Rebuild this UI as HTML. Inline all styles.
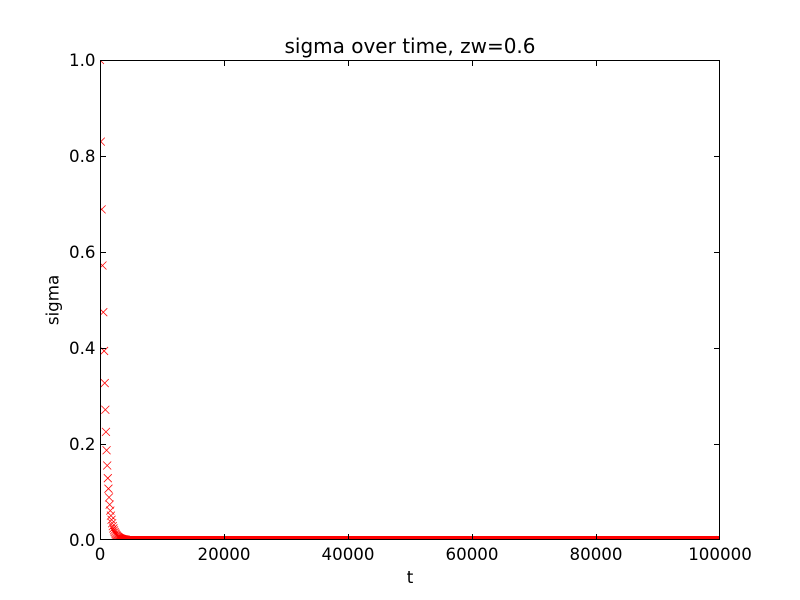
<!DOCTYPE html>
<html>
<head>
<meta charset="utf-8">
<style>
  html, body { margin: 0; padding: 0; background: #ffffff; }
  svg { display: block; }
  text { font-family: "DejaVu Sans", "Liberation Sans", sans-serif; fill: #000; }
</style>
</head>
<body>
<svg width="800" height="600" viewBox="0 0 800 600" xmlns="http://www.w3.org/2000/svg">
  <rect x="0" y="0" width="800" height="600" fill="#ffffff"/>
  <defs>
    <clipPath id="ax"><rect x="100" y="60" width="620" height="480"/></clipPath>
  </defs>
  <g clip-path="url(#ax)">
    <rect x="124" y="536" width="596" height="4" fill="#ff0000"/>
    <path fill="none" stroke="#ff0000" stroke-width="0.75" d="M96 56l8 8m-8 0l8-8 M96.82 137.6l8 8m-8 0l8-8 M97.64 205.33l8 8m-8 0l8-8 M98.46 261.54l8 8m-8 0l8-8 M99.28 308.19l8 8m-8 0l8-8 M100.1 346.93l8 8m-8 0l8-8 M100.72 379.07l8 8m-8 0l8-8 M101.34 405.75l8 8m-8 0l8-8 M101.96 427.89l8 8m-8 0l8-8 M102.58 446.27l8 8m-8 0l8-8 M103.2 461.52l8 8m-8 0l8-8 M103.82 474.18l8 8m-8 0l8-8 M104.44 484.69l8 8m-8 0l8-8 M105.06 493.41l8 8m-8 0l8-8 M105.68 500.65l8 8m-8 0l8-8 M106.3 506.66l8 8m-8 0l8-8 M106.92 511.65l8 8m-8 0l8-8 M107.54 515.79l8 8m-8 0l8-8 M108.16 519.23l8 8m-8 0l8-8 M108.78 522.08l8 8m-8 0l8-8 M109.4 524.44l8 8m-8 0l8-8 M110.02 526.41l8 8m-8 0l8-8 M110.64 528.04l8 8m-8 0l8-8 M111.26 529.39l8 8m-8 0l8-8 M111.88 530.52l8 8m-8 0l8-8 M112.5 531.45l8 8m-8 0l8-8 M113.12 532.22l8 8m-8 0l8-8 M113.74 532.87l8 8m-8 0l8-8 M114.36 533.4l8 8m-8 0l8-8 M114.98 533.84l8 8m-8 0l8-8 M115.6 534.21l8 8m-8 0l8-8 M116.22 534.51l8 8m-8 0l8-8 M116.84 534.77l8 8m-8 0l8-8 M117.46 534.97l8 8m-8 0l8-8 M118.08 535.15l8 8m-8 0l8-8 M118.7 535.3l8 8m-8 0l8-8 M119.32 535.42l8 8m-8 0l8-8 M119.94 535.52l8 8m-8 0l8-8 M120.56 535.6l8 8m-8 0l8-8 M121.18 535.67l8 8m-8 0l8-8 M121.8 535.72l8 8m-8 0l8-8 M716 536l8 8m-8 0l8-8"/>
  </g>
  <rect x="100.5" y="60.5" width="619" height="479" fill="none" stroke="#000" stroke-width="1"/>
  <path stroke="#000" stroke-width="1" fill="none" d="M224.5 539.5V534M348.5 539.5V534M472.5 539.5V534M596.5 539.5V534M224.5 60.5V66M348.5 60.5V66M472.5 60.5V66M596.5 60.5V66M100.5 444.5H106M100.5 348.5H106M100.5 252.5H106M100.5 156.5H106M719.5 444.5H714M719.5 348.5H714M719.5 252.5H714M719.5 156.5H714"/>
  <g font-size="16.67" text-anchor="middle">
    <text x="100" y="560">0</text>
    <text x="224" y="560">20000</text>
    <text x="348" y="560">40000</text>
    <text x="472" y="560">60000</text>
    <text x="596" y="560">80000</text>
    <text x="720" y="560">100000</text>
    <text x="410" y="583">t</text>
  </g>
  <g font-size="16.67" text-anchor="end">
    <text x="95.5" y="546">0.0</text>
    <text x="95.5" y="450">0.2</text>
    <text x="95.5" y="354">0.4</text>
    <text x="95.5" y="258">0.6</text>
    <text x="95.5" y="162">0.8</text>
    <text x="95.5" y="66">1.0</text>
  </g>
  <text transform="translate(58.5,300) rotate(-90)" font-size="16.67" text-anchor="middle">sigma</text>
  <text x="410" y="53" font-size="20" text-anchor="middle">sigma over time, zw=0.6</text>
</svg>
</body>
</html>
